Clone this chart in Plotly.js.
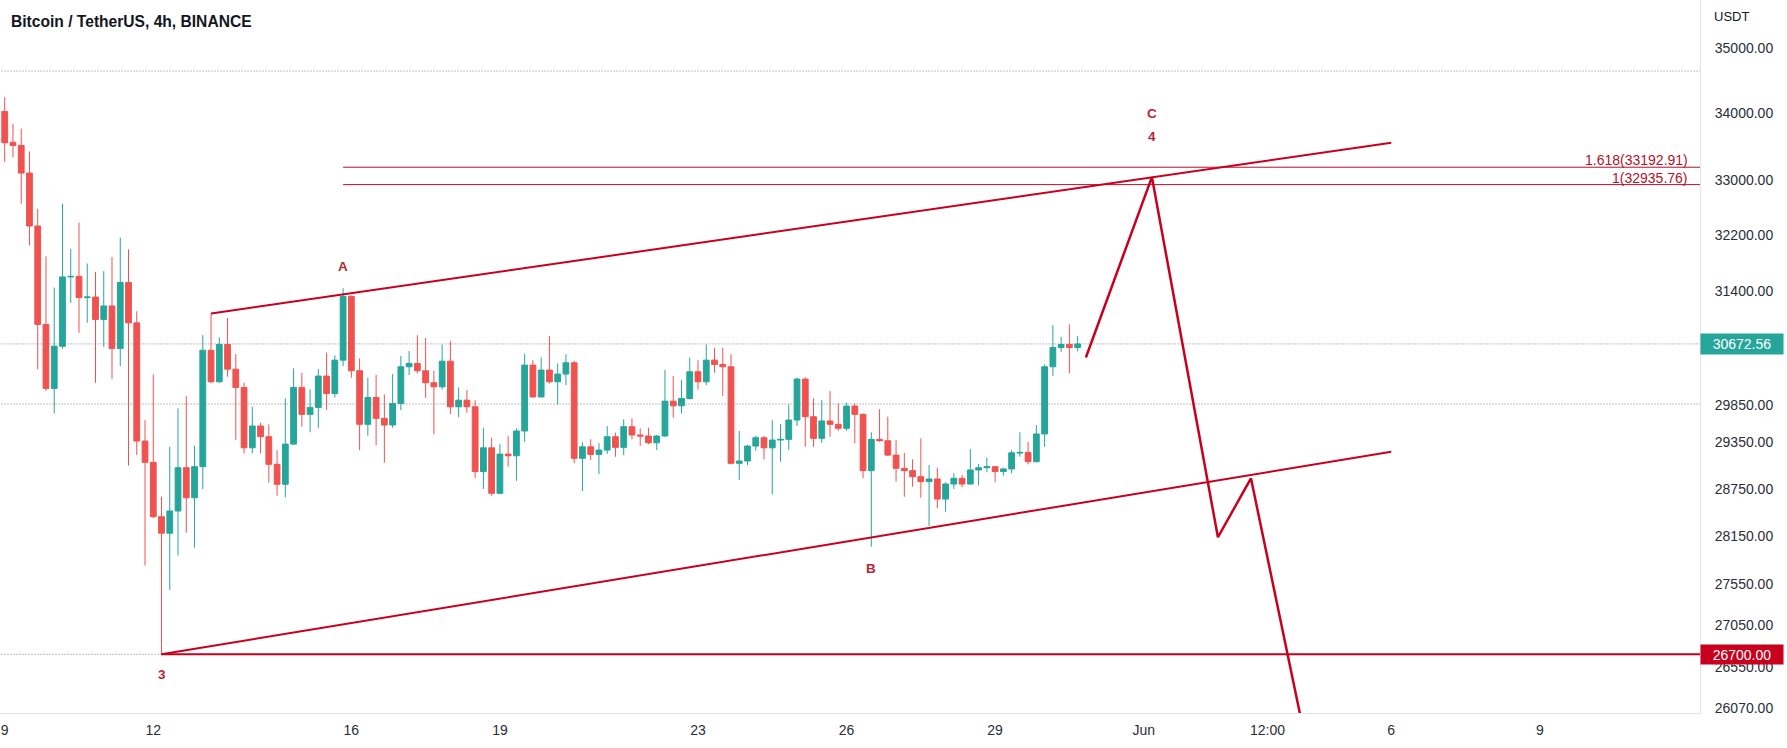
<!DOCTYPE html>
<html>
<head>
<meta charset="utf-8">
<script src="https://cdn.plot.ly/plotly-3.0.1.min.js"></script>
<style>html,body{margin:0;padding:0;background:#fff;}#chart{width:1787px;height:748px;}</style>
</head>
<body>
<div id="chart"></div>
<script>
// ---- data (BTC/USDT 4h candles from 2022-05-09 00:00) ----
const firstCandle = '2022-05-09T00:00:00Z';
const candleHours = 4;
const opens = [
34030,33566,33517,33106,32332,30941,30069,30641,31605,31612,
31314,31322,31010,31197,30609,31526,30963,29370,29092,28394,
28185,28466,29022,28635,29035,30586,30158,30665,30329,30082,
29281,29568,29427,29066,28808,29330,30082,29722,29815,30235,
30000,30451,31332,30307,29590,29947,29669,29581,29867,30361,
30406,30307,30145,30090,30437,29823,29911,29823,28972,29281,
28692,29199,29177,29502,30384,29955,30316,30158,30262,30415,
29144,29294,29195,29251,29427,29287,29559,29449,29436,29347,
29436,29898,29836,29934,30293,30158,30451,30393,30361,29079,
29109,29304,29413,29281,29383,29392,29647,30194,29691,29405,
29634,29590,29537,29832,29722,28984,29392,29374,29186,29014,
28984,28906,28842,28876,28618,28811,28885,28811,28993,29022,
29035,28972,29006,29212,29221,29100,29463,30361,30623,30665,
30623];
const highs = [
34247,33844,33770,33426,32583,31897,31455,32655,32007,32381,
31794,31676,31685,31887,32165,31996,31124,29647,30258,28648,
29295,29801,29965,29308,30793,31092,30761,31032,30532,30145,
29823,29611,29590,29251,29934,30339,30280,30055,30329,30555,
30518,31445,31345,30474,30212,30249,29988,30262,30509,30577,
30793,30756,30307,30665,30710,30082,30046,29911,29545,29413,
29330,29436,29537,30541,30451,30487,30783,30406,30532,30442,
29353,29392,29340,29568,29480,29656,29669,29537,29545,29449,
30316,30235,30181,30487,30451,30665,30618,30618,30532,29502,
29317,29440,29436,29647,29594,29854,30217,30217,29934,29911,
30032,29867,29875,29867,29735,29485,29792,29691,29383,29216,
29131,29405,29057,29022,28834,28950,28928,29264,29070,29152,
29040,29022,29251,29485,29360,29581,30393,30931,30770,30941,
30783];
const lows = [
33268,33342,32655,32054,30325,30037,29735,30609,31239,30825,
30963,30145,30632,30194,30370,29048,29186,27780,28374,26700,
27480,27904,28192,28003,28747,30140,30145,30226,29383,29208,
29208,29208,28828,28661,28640,29317,29559,29485,29545,29779,
29947,30370,30212,29251,29440,29317,29087,29545,29779,30249,
30271,29942,29458,30055,29726,29683,29743,28887,28747,28661,
28680,29035,28851,29360,29942,29945,30136,29854,30113,29079,
28721,29122,28941,29199,29164,29186,29392,29308,29330,29251,
29427,29677,29735,29920,30055,30113,30280,29969,29065,28863,
29057,29242,29131,28679,29100,29251,29568,29294,29294,29347,
29427,29505,29505,29339,28887,28016,29360,29173,28842,28648,
28777,28635,28277,28500,28457,28747,28769,28808,28790,28963,
28834,28920,28950,29164,29066,29090,29294,30235,30563,30271,
30572];
const closes = [
33557,33517,33106,32332,30941,30069,30641,31605,31612,31314,
31322,31010,31197,30609,31526,30963,29370,29092,28394,28185,
28466,29022,28635,29035,30586,30158,30665,30329,30082,29281,
29568,29427,29066,28808,29330,30082,29722,29815,30235,30000,
30451,31332,30307,29590,29947,29669,29581,29867,30361,30406,
30307,30145,30090,30437,29823,29911,29823,28972,29281,28692,
29199,29177,29502,30384,29955,30316,30158,30262,30415,29144,
29294,29195,29251,29427,29287,29559,29449,29436,29347,29436,
29898,29836,29934,30293,30158,30451,30393,30361,29079,29109,
29304,29413,29281,29383,29392,29647,30194,29691,29405,29634,
29590,29537,29832,29722,28984,29392,29374,29186,29014,28984,
28906,28842,28876,28618,28811,28885,28811,28993,29022,29035,
28972,29006,29216,29221,29100,29463,30361,30623,30665,30623,
30672.56];

// drawings
const upperChannelTimes = ['2022-05-13 04:00', '2022-06-06 00:00'];
const upperChannelPrices = [31092, 33557];
const lowerChannelTimes = ['2022-05-12 04:00', '2022-06-06 00:00'];
const lowerChannelPrices = [26700, 29229];
const pathTimes = ['2022-05-30 20:00', '2022-06-01 04:00', '2022-06-02 12:00', '2022-06-03 04:00', '2022-06-04 08:00'];
const pathPrices = [30487, 33047, 28134, 28885, 25515];
const fibStartTime = '2022-05-15 20:00';
const fibLevels = [33192.91, 32935.76];
const fibLabels = ['1.618(33192.91)', '1(32935.76)'];
const supportStartTime = '2022-05-12 04:00';
const supportPrice = 26700;
const dottedLevels = [34650, 30672.56, 29860, 26700];
const lastPrice = 30672.56;
const waveLabels = ['3', 'A', 'B', 'C', '4'];
const waveTimes = ['2022-05-12 04:00', '2022-05-15 20:00', '2022-05-26 12:00', '2022-06-01 04:00', '2022-06-01 04:00'];
const wavePrices = [26458, 31756, 27748, 34001, 33657];

// axes
const xTickVals = ['2022-05-09', '2022-05-12', '2022-05-16', '2022-05-19', '2022-05-23', '2022-05-26', '2022-05-29', '2022-06-01', '2022-06-03 12:00', '2022-06-06', '2022-06-09'];
const xTickText = ['9', '12', '16', '19', '23', '26', '29', 'Jun', '12:00', '6', '9'];
const yTickVals = [35000, 34000, 33000, 32200, 31400, 29850, 29350, 28750, 28150, 27550, 27050, 26550, 26070];
const xRange = ['2022-05-08 21:43', '2022-06-12 05:38'];
const yRange = [26009, 35768];

// ---- build ----
function fmt(d) { return d.toISOString().slice(0, 16).replace('T', ' '); }
const t0 = new Date(firstCandle).getTime();
const times = opens.map((_, i) => fmt(new Date(t0 + i * candleHours * 3600 * 1000)));

const RED = '#c8001e';
const FIBRED = '#b0122a';
const LABELRED = '#b22833';
const farLeft = '2022-05-01 00:00';
const farRight = '2022-06-20 00:00';

const traces = [];
dottedLevels.forEach(lv => traces.push({
  type: 'scatter', mode: 'lines', x: [farLeft, farRight], y: [lv, lv],
  line: {color: '#7d808a', width: 1, dash: '1px,2px'}, hoverinfo: 'skip', showlegend: false
}));
traces.push({
  type: 'candlestick', x: times, open: opens, high: highs, low: lows, close: closes,
  increasing: {line: {color: '#26a69a', width: 1}, fillcolor: '#26a69a'},
  decreasing: {line: {color: '#ef5350', width: 1}, fillcolor: '#ef5350'},
  whiskerwidth: 0, hoverinfo: 'skip', showlegend: false
});
fibLevels.forEach(lv => traces.push({
  type: 'scatter', mode: 'lines', x: [fibStartTime, farRight], y: [lv, lv],
  line: {color: FIBRED, width: 1}, hoverinfo: 'skip', showlegend: false
}));
traces.push({type: 'scatter', mode: 'lines', x: [supportStartTime, farRight], y: [supportPrice, supportPrice],
  line: {color: RED, width: 2}, hoverinfo: 'skip', showlegend: false});
traces.push({type: 'scatter', mode: 'lines', x: upperChannelTimes, y: upperChannelPrices,
  line: {color: RED, width: 2}, hoverinfo: 'skip', showlegend: false});
traces.push({type: 'scatter', mode: 'lines', x: lowerChannelTimes, y: lowerChannelPrices,
  line: {color: RED, width: 2}, hoverinfo: 'skip', showlegend: false});
traces.push({type: 'scatter', mode: 'lines', x: pathTimes, y: pathPrices,
  line: {color: RED, width: 2.5}, hoverinfo: 'skip', showlegend: false});

const FONT = 'Liberation Sans, Arial, sans-serif';
const annotations = [];
annotations.push({xref: 'paper', yref: 'paper', x: 0, y: 1, xanchor: 'left', yanchor: 'top', xshift: 9, yshift: -11,
  text: 'Bitcoin / TetherUS, 4h, BINANCE', showarrow: false,
  font: {family: FONT, size: 15.6, color: '#131722', weight: 'bold'}});
annotations.push({xref: 'paper', yref: 'paper', x: 1, y: 1, xanchor: 'left', yanchor: 'top', xshift: 12, yshift: -7,
  text: 'USDT', showarrow: false, font: {family: FONT, size: 13, color: '#131722'}});
waveLabels.forEach((t, i) => annotations.push({
  xref: 'x', yref: 'y', x: waveTimes[i], y: Math.log10(wavePrices[i]), text: t, showarrow: false,
  font: {family: FONT, size: 13.5, color: LABELRED, weight: 'bold'}
}));
fibLevels.forEach((lv, i) => annotations.push({
  xref: 'paper', yref: 'y', x: 1, y: Math.log10(lv), xanchor: 'right', yanchor: 'bottom', xshift: -10, yshift: -3,
  text: fibLabels[i], showarrow: false, font: {family: FONT, size: 14, color: FIBRED}
}));
annotations.push({xref: 'paper', yref: 'y', x: 1, y: Math.log10(lastPrice), xanchor: 'left', yanchor: 'middle',
  text: lastPrice.toFixed(2), showarrow: false, bgcolor: '#26a69a', width: 82, height: 20, borderpad: 0, align: 'center',
  font: {family: FONT, size: 14, color: '#ffffff'}});
annotations.push({xref: 'paper', yref: 'y', x: 1, y: Math.log10(supportPrice), xanchor: 'left', yanchor: 'middle',
  text: supportPrice.toFixed(2), showarrow: false, bgcolor: RED, width: 82, height: 19, borderpad: 0, align: 'center',
  font: {family: FONT, size: 14, color: '#ffffff'}});

const layout = {
  width: 1787, height: 748,
  margin: {l: 0, r: 87, t: 0, b: 35},
  paper_bgcolor: '#ffffff', plot_bgcolor: '#ffffff',
  showlegend: false,
  boxgap: 0.3, boxgroupgap: 0,
  xaxis: {
    type: 'date', range: xRange, tickvals: xTickVals, ticktext: xTickText,
    showgrid: false, zeroline: false, showline: true, linecolor: '#e0e3eb', linewidth: 1,
    ticks: '', ticklabelstandoff: 4,
    tickfont: {family: FONT, size: 14, color: '#2a2e39'},
    rangeslider: {visible: false}, fixedrange: true
  },
  yaxis: {
    type: 'log', side: 'right', range: yRange.map(Math.log10),
    tickvals: yTickVals, ticktext: yTickVals.map(v => v.toFixed(2)),
    showgrid: false, zeroline: false, showline: true, linecolor: '#e0e3eb', linewidth: 1,
    ticks: '', ticklabelstandoff: 11,
    tickfont: {family: FONT, size: 14, color: '#2a2e39'}, fixedrange: true
  },
  annotations: annotations
};

Plotly.newPlot('chart', traces, layout, {displayModeBar: false, staticPlot: true});
</script>
</body>
</html>
